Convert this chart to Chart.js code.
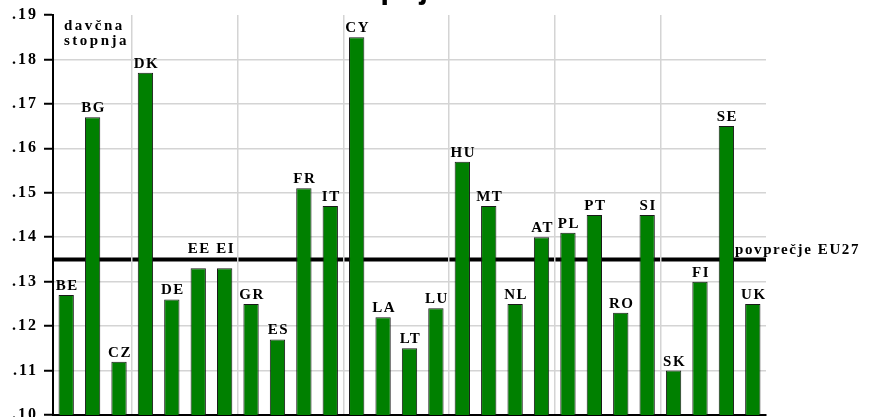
<!DOCTYPE html>
<html lang="sl">
<head>
  <meta charset="UTF-8">
  <title>Davčna stopnja</title>
  <script src="https://cdn.jsdelivr.net/npm/chart.js"></script>
  <style>
    body {
      margin: 0;
      background: #fff;
    }
    .chart-box {
      width: 869px;
      height: 417px;
      position: relative;
    }
  </style>
</head>
<body>

<div class="chart-box">
  <canvas id="taxChart"></canvas>
</div>

<script>
  // Države EU27 in njihove davčne stopnje
  const countries = ['BE', 'BG', 'CZ', 'DK', 'DE', 'EE', 'EI', 'GR', 'ES', 'FR', 'IT', 'CY', 'LA', 'LT',
                     'LU', 'HU', 'MT', 'NL', 'AT', 'PL', 'PT', 'RO', 'SI', 'SK', 'FI', 'SE', 'UK'];
  const taxRates = [0.127, 0.167, 0.112, 0.177, 0.126, 0.133, 0.133, 0.125, 0.117, 0.151, 0.147, 0.185, 0.122, 0.115,
                    0.124, 0.157, 0.147, 0.125, 0.140, 0.141, 0.145, 0.123, 0.145, 0.110, 0.130, 0.165, 0.125];
  const euAverage = 0.135;
  const avgLabel = 'povprečje EU27';
  const axisLabel = ['davčna', 'stopnja'];
  const titleText = 'Davčna stopnja';
  const yMin = 0.10;
  const yMax = 0.19;
  const yStep = 0.01;

  const serif = '"Liberation Serif", "Times New Roman", serif';

  // povprečje EU27 - debela črna črta (pod stolpci in mrežo)
  const averageLine = {
    id: 'averageLine',
    beforeDraw(chart) {
      const { ctx, chartArea, scales } = chart;
      ctx.letterSpacing = '2px';
      const y = scales.y.getPixelForValue(euAverage);
      ctx.save();
      ctx.strokeStyle = '#000';
      ctx.lineWidth = 4;
      ctx.beginPath();
      ctx.moveTo(chartArea.left, y);
      ctx.lineTo(chartArea.right, y);
      ctx.stroke();
      ctx.restore();
    },
    afterDraw(chart) {
      const { ctx, chartArea, scales } = chart;
      const y = scales.y.getPixelForValue(euAverage);
      ctx.save();
      ctx.fillStyle = '#000';
      ctx.font = 'bold 15px ' + serif;
      ctx.letterSpacing = '1.6px';
      ctx.textAlign = 'left';
      ctx.textBaseline = 'alphabetic';
      ctx.fillText(avgLabel, chartArea.right - 31, y - 5);

      // oznaka osi v zgornjem levem kotu
      ctx.letterSpacing = '2.5px';
      ctx.fillText(axisLabel[0], chartArea.left + 11, 30);
      ctx.fillText(axisLabel[1], chartArea.left + 11, 45);

      // naslov (zgoraj odrezan)
      ctx.letterSpacing = '0px';
      ctx.font = 'bold 32px "Liberation Sans", Arial, sans-serif';
      ctx.textAlign = 'right';
      ctx.fillText(titleText, 446, -2);
      ctx.restore();
    }
  };

  // oznake držav nad stolpci; če bi se prekrivale s črto povprečja, gredo nad njo
  const barLabels = {
    id: 'barLabels',
    afterDatasetsDraw(chart) {
      const { ctx } = chart;
      const meta = chart.getDatasetMeta(0);
      const lineY = chart.scales.y.getPixelForValue(euAverage);
      ctx.save();
      ctx.fillStyle = '#000';
      ctx.font = 'bold 15px ' + serif;
      ctx.letterSpacing = '1.5px';
      ctx.textAlign = 'center';
      ctx.textBaseline = 'alphabetic';
      meta.data.forEach((bar, i) => {
        let y = bar.y - 5;
        if (y > lineY - 3 && y - 11 < lineY + 3) {
          y = lineY - 6;
        }
        ctx.fillText(countries[i], bar.x + 1, y);
      });
      ctx.restore();
    }
  };

  const ctx = document.getElementById('taxChart').getContext('2d');
  new Chart(ctx, {
    type: 'bar',
    data: {
      labels: countries,
      datasets: [{
        data: taxRates,
        backgroundColor: '#008000',
        borderColor: '#1a1a1a',
        borderWidth: 1,
        barPercentage: 0.58,
        categoryPercentage: 1.0
      }]
    },
    options: {
      responsive: true,
      maintainAspectRatio: false,
      animation: false,
      layout: {
        padding: { top: 15, right: 103, bottom: 2, left: 0 }
      },
      plugins: {
        legend: { display: false },
        tooltip: { enabled: false }
      },
      scales: {
        x: {
          offset: true,
          ticks: { display: false },
          grid: {
            offset: true,
            drawTicks: false,
            lineWidth: 1.5,
            color: (c) => (c.index % 4 === 3 ? '#d4d4d4' : 'rgba(0,0,0,0)')
          },
          border: { color: '#000', width: 2 }
        },
        y: {
          min: yMin,
          max: yMax,
          ticks: {
            stepSize: yStep,
            color: '#000',
            padding: 6,
            font: { family: serif, size: 16, weight: 'bold' },
            callback: (v) => v.toFixed(2).replace(/^0/, '')
          },
          grid: {
            tickLength: 9,
            tickColor: '#000',
            tickWidth: 2,
            lineWidth: 1.5,
            color: (c) => (c.tick && c.tick.value > yMax - yStep / 2 ? 'rgba(0,0,0,0)' : '#d4d4d4')
          },
          border: { color: '#000', width: 2 },
          afterFit(scale) {
            scale.width = 53;
            scale.paddingTop = 0;
            scale.paddingBottom = 0;
          }
        }
      }
    },
    plugins: [averageLine, barLabels]
  });
</script>

</body>
</html>
